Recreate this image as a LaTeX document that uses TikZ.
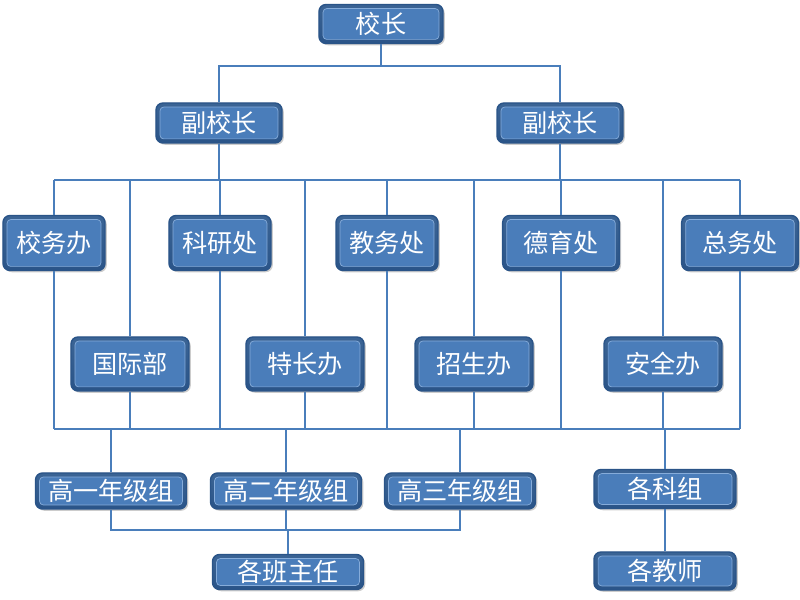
\documentclass[tikz,border=0pt]{standalone}
\usepackage{fontspec}
\newfontfamily\cjk{Noto Sans CJK SC}
\usepackage{tikz}
\usetikzlibrary{shadows}
\definecolor{org-rim}{HTML}{2A5488}
\definecolor{org-face}{HTML}{4A7DBA}
\definecolor{org-light}{HTML}{86ACDA}
\definecolor{org-line}{HTML}{4A7EBB}

\tikzset{
  orgbox/.style={draw=org-rim, line width=1.2pt, rounded corners=6pt,
    top color=org-face!80!black, bottom color=org-rim, text=white,
    font=\cjk\fontsize{21.5}{24}\selectfont, inner sep=0pt,
    drop shadow={opacity=0.4, shadow xshift=1.5pt, shadow yshift=-1.5pt},
    path picture={
      \fill[org-face, draw=org-light, line width=0.6pt, rounded corners=3pt]
        ([shift={(3.5pt,-3.5pt)}]path picture bounding box.north west) rectangle
        ([shift={(-3.5pt,3.5pt)}]path picture bounding box.south east);}},
  link/.style={draw=org-line, line width=0.9pt}
}

\begin{document}
\begin{tikzpicture}[x=0.03cm, y=-0.03cm]
  \useasboundingbox (0,0) rectangle (800,600);
  % top
  \node[orgbox, minimum width=3.72cm, minimum height=1.17cm] (head) at (381,24) {校长};
  \node[orgbox, minimum width=3.78cm, minimum height=1.2cm] (vpL) at (219,123) {副校长};
  \node[orgbox, minimum width=3.78cm, minimum height=1.2cm] (vpR) at (560,123) {副校长};
  % offices, upper row
  \node[orgbox, minimum width=3.06cm, minimum height=1.65cm] (xwb) at (54,243) {校务办};
  \node[orgbox, minimum width=3.06cm, minimum height=1.65cm] (kyc) at (220,243) {科研处};
  \node[orgbox, minimum width=3.06cm, minimum height=1.65cm] (jwc) at (387,243) {教务处};
  \node[orgbox, minimum width=3.5cm, minimum height=1.65cm] (dyc) at (561,243) {德育处};
  \node[orgbox, minimum width=3.5cm, minimum height=1.65cm] (zwc) at (740,243) {总务处};
  % offices, lower row
  \node[orgbox, minimum width=3.54cm, minimum height=1.62cm] (gjb) at (130,364) {国际部};
  \node[orgbox, minimum width=3.54cm, minimum height=1.62cm] (tcb) at (305,364) {特长办};
  \node[orgbox, minimum width=3.54cm, minimum height=1.62cm] (zsb) at (474,364) {招生办};
  \node[orgbox, minimum width=3.54cm, minimum height=1.62cm] (aqb) at (663,364) {安全办};
  % groups
  \node[orgbox, minimum width=4.53cm, minimum height=1.08cm] (g1) at (111,491) {高一年级组};
  \node[orgbox, minimum width=4.53cm, minimum height=1.08cm] (g2) at (286,491) {高二年级组};
  \node[orgbox, minimum width=4.53cm, minimum height=1.08cm] (g3) at (460,491) {高三年级组};
  \node[orgbox, minimum width=4.26cm, minimum height=1.17cm] (kz) at (665,489) {各科组};
  \node[orgbox, minimum width=4.53cm, minimum height=1.05cm] (bzr) at (288,572) {各班主任};
  \node[orgbox, minimum width=4.26cm, minimum height=1.14cm] (js) at (665,571) {各教师};

  % buses
  \coordinate (top) at (0,66);
  \coordinate (upper) at (0,180);
  \coordinate (lower) at (0,429);
  \coordinate (grade) at (0,530);

  \draw[link] (head.south) -- (head |- top);
  \draw[link] (vpL.north) -- (vpL |- top) -- (vpR |- top) -- (vpR.north);
  \draw[link] (vpL.south) -- (vpL |- upper);
  \draw[link] (vpR.south) -- (vpR |- upper);
  \draw[link] (xwb |- upper) -- (zwc |- upper);
  \draw[link] (xwb |- lower) -- (zwc |- lower);
  \foreach \n in {xwb,kyc,jwc,dyc,zwc,gjb,tcb,zsb,aqb} {
    \draw[link] (\n.north) -- (\n |- upper);
    \draw[link] (\n.south) -- (\n |- lower);
  }
  \foreach \n in {g1,g2,g3,kz}
    \draw[link] (\n.north) -- (\n |- lower);
  \draw[link] (g1.south) -- (g1 |- grade) -- (g3 |- grade) -- (g3.south);
  \draw[link] (g2.south) -- (g2 |- grade);
  \draw[link] (bzr.north) -- (bzr |- grade);
  \draw[link] (kz.south) -- (js.north);
\end{tikzpicture}
\end{document}
